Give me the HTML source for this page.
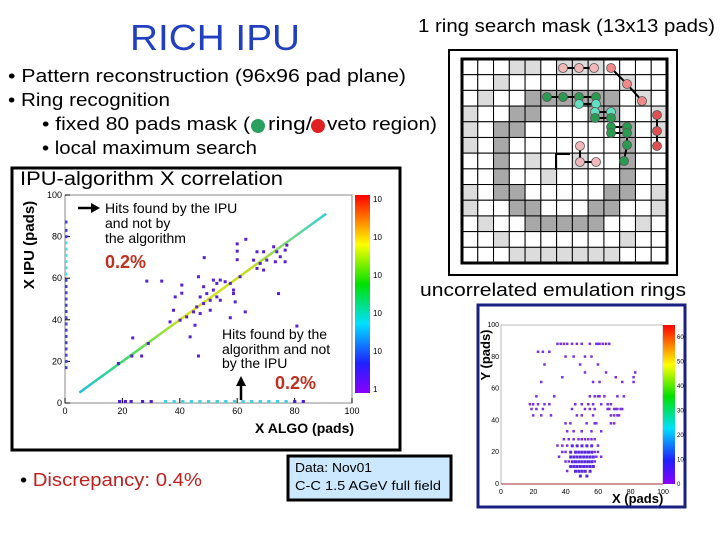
<!DOCTYPE html>
<html><head><meta charset="utf-8"><style>
body{margin:0;background:#fff;width:720px;height:540px;overflow:hidden}
svg{display:block;font-family:"Liberation Sans",sans-serif}
</style></head><body>
<svg id="s" width="720" height="540" viewBox="0 0 720 540">
<defs>
<linearGradient id="cb" x1="0" y1="1" x2="0" y2="0">
<stop offset="0" stop-color="#8a00ff"/><stop offset="0.15" stop-color="#2020ff"/><stop offset="0.35" stop-color="#00e0ff"/><stop offset="0.55" stop-color="#00e000"/><stop offset="0.75" stop-color="#ffff00"/><stop offset="1" stop-color="#ff0000"/>
</linearGradient>
<linearGradient id="dg" x1="0" y1="1" x2="1" y2="0">
<stop offset="0" stop-color="#20c0e0"/><stop offset="0.2" stop-color="#40e060"/><stop offset="0.45" stop-color="#e0e020"/><stop offset="0.7" stop-color="#c0e020"/><stop offset="1" stop-color="#30d0e0"/>
</linearGradient>
</defs>
<text x="130" y="50" font-size="36" fill="#2040c0" textLength="170" lengthAdjust="spacingAndGlyphs">RICH IPU</text>
<text x="418" y="32" font-size="18" fill="#000" textLength="297" lengthAdjust="spacingAndGlyphs">1 ring search mask (13x13 pads)</text>
<g font-size="18" fill="#000">
<text x="8" y="82" textLength="398" lengthAdjust="spacingAndGlyphs">• Pattern reconstruction (96x96 pad plane)</text>
<text x="8" y="106" textLength="162" lengthAdjust="spacingAndGlyphs">• Ring recognition</text>
<text x="42" y="130" textLength="208" lengthAdjust="spacingAndGlyphs">• fixed 80 pads mask (</text>
<text x="268" y="130" textLength="44" lengthAdjust="spacingAndGlyphs">ring/</text>
<text x="327" y="130" textLength="110" lengthAdjust="spacingAndGlyphs">veto region)</text>
<text x="42" y="154" textLength="215" lengthAdjust="spacingAndGlyphs">• local maximum search</text>
</g>
<circle cx="258" cy="126" r="7" fill="#2aa060"/>
<circle cx="318" cy="126" r="7" fill="#e02020"/>
<rect x="449" y="50" width="228" height="225" fill="none" stroke="#000" stroke-width="2"/>
<g id="mask"></g>
<text x="420" y="296" font-size="18" fill="#000" textLength="266" lengthAdjust="spacingAndGlyphs">uncorrelated emulation rings</text>
<rect x="12" y="168" width="388" height="282" fill="none" stroke="#000" stroke-width="3"/>
<text x="20" y="185" font-size="19" fill="#000" textLength="263" lengthAdjust="spacingAndGlyphs">IPU-algorithm X correlation</text>
<g id="main"></g>
<rect x="478" y="305" width="207" height="202" fill="#fff" stroke="#1a2080" stroke-width="3"/>
<g id="right"></g>
<text x="20" y="486" font-size="18" fill="#000" textLength="182" lengthAdjust="spacingAndGlyphs">• <tspan fill="#c02020">Discrepancy: 0.4%</tspan></text>
<rect x="288" y="456" width="163" height="44" fill="#cce8ff" stroke="#000" stroke-width="3"/>
<text x="295" y="472" font-size="13" fill="#000" textLength="77" lengthAdjust="spacingAndGlyphs">Data: Nov01</text>
<text x="295" y="490" font-size="13" fill="#000" textLength="146" lengthAdjust="spacingAndGlyphs">C-C 1.5 AGeV full field</text>
</svg>
<script>
// mask grid shades: 0 white,1 light,2 dark (13x13)
const maskRows=[
"0001101110000","0010000000100","0100222222010","1002200022001","1022000000201","1020000000200","0020100100200","0020010000200","1022000002201","1002200022001","0100222220010","0010000000100","0001111111000"];
const mainTickVals=[0,20,40,60,80,100];
const diagStart=[5,5], diagEnd=[91,91];
const clusterA=[[66.9,72.7],[69.2,72.7],[65.7,68.7],[68,67.1],[70.3,68.7],[72.7,75.1],[73.8,72.7],[75,70.3],[76.7,73.5],[77.3,75.9],[73.3,67.9],[76.7,67.9],[66.9,64.7],[69.2,63.9]];
const clusterB=[[47.1,51],[49.4,52.6],[51.7,54.3],[52.9,51],[54.1,49.4],[48.3,47.8],[50.6,49.4],[45.9,46.2],[44.8,43.8],[42.4,41.4],[40.1,39.8],[47.1,43],[52.9,57.5],[55.8,58.3],[57.6,57.5],[58.7,54.3],[61,60.7],[51.7,59.1],[54.1,59.1],[58.7,52.6],[48.3,55.9]];
const sparse=[[60,76.5],[63,78.7],[60,73],[60,68.9],[48.5,69.9],[28.5,58.6],[33.7,58.6],[40.7,56.7],[46.5,60.7],[40.7,52.8],[38.4,51],[37.8,44.6],[36.6,39],[45.3,37.4],[43.6,31.8],[46.5,22.6],[50.6,44.6],[57.6,41],[59.3,48.6],[62.8,43.8],[74.4,52.6],[80.8,37],[23.3,22.6],[26.7,22.6],[23.6,31.3],[29,28.6],[18.6,19]];
const zeroXhitsY=[17,20,23,26,29,32,35,38,41,44,47,50,53,56,59,62,65,68,71,74,77,80,83,87];
const zeroYhitsX=[19,21,23,27,30,35,38,41,44,47,50,53,56,59,62,65,68,71,74,77,80,83];
const mainCbLabels=["1","10","10","10","10","10"];
const rightTickVals=[0,20,40,60,80,100];
const rightCbVals=[0,10,20,30,40,50,60];
const uncorrY=[88,83,80,75,70,67,64,55,50,47,43,38,33,28,24,20,17,14,11,8,5];
const uncorrX=[[35,37,39,41,44,47,50,55,59,60,61,63,65,67],[23,26,30],[40,45,52,56],[27,49,60],[52,65,83],[38,71,82],[25,57,61,75,82],[22,33,55,58,60,61,64,72,76],[18,20,23,27,30,46,50,54,57,62,66,68],[19,22,26,44,52,55,58,66,67,70,71,72,74,75],[20,25,31,47,50,57,68,70,72,73],[40,43,53,58,59,68,70],[41,45,50,56,62],[39,42,45,48,50,52,54,56,58],[35,38,41,44,47,50,53,56,60],[38,40,43,46,48,50,52,54,56,58,60],[36,43,45,47,49,51,53,55,57,59,62],[40,42,44,46,48,50,52,54,56,58],[43,45,47,49,51,53,55,57],[41,46,48,50,52,55],[49,53]];
const NS="http://www.w3.org/2000/svg";
function mk(p,t,a){const e=document.createElementNS(NS,t);for(const k in a)e.setAttribute(k,a[k]);p.appendChild(e);return e;}
// mask
const mask=document.getElementById('mask');
const gx0=462,gy0=59,cw=205/13,ch=204/13;
maskRows.forEach((r,i)=>{[...r].forEach((c,j)=>{
 const e=mk(mask,'rect',{x:gx0+j*cw,y:gy0+i*ch,width:cw,height:ch,fill:c==='2'?'#a8a8a8':c==='1'?'#dcdcdc':'#fff',stroke:'#000','stroke-width':1});
 
 
});});
const mb=mk(mask,'rect',{x:gx0,y:gy0,width:205,height:204,fill:'none',stroke:'#000','stroke-width':3});


mk(mask,'path',{d:'M556 170V154H570',fill:'none',stroke:'#000','stroke-width':2});
const chains=[
 {c:'#f0b8b8',pts:[[563,68],[579,68],[594,68]]},{c:'#f08a8a',pts:[[611,68],[627,84],[642,101]]},
 {c:'#2a9a50',pts:[[547,97],[563,97],[579,97],[596,97]]},{c:'#60e0c0',pts:[[579,104],[596,104]]},
 {c:'#60e0c0',pts:[[595,112],[611,112]]},{c:'#2a9a50',pts:[[595,118],[611,118]]},
 {c:'#2a9a50',pts:[[611,127],[627,127]]},{c:'#2a9a50',pts:[[611,133],[627,133],[627,145],[624,161]]},
 {c:'#e05050',pts:[[657,115],[657,131],[657,146]]},{c:'#f0b8b8',pts:[[580,146],[580,162],[596,162]]}];
chains.forEach(ch=>{
 mk(mask,'polyline',{points:ch.pts.map(p=>p.join(',')).join(' '),fill:'none',stroke:'#000','stroke-width':2});
 ch.pts.forEach(p=>{const e=mk(mask,'circle',{cx:p[0],cy:p[1],r:4.5,fill:ch.c,stroke:'#555','stroke-width':0.8});
 
 });
});
// main chart
const M=document.getElementById('main');
const X0=65,X1=352,Y0=403,Y1=195;
const mx=v=>X0+(X1-X0)*v/100, my=v=>Y0-(Y0-Y1)*v/100;
mk(M,'rect',{x:X0,y:Y1,width:X1-X0,height:Y0-Y1,fill:'#fff',stroke:'#888','stroke-width':1});
mainTickVals.forEach(v=>{
 const a=mk(M,'text',{x:mx(v),y:Y0+11,'font-size':9,'text-anchor':'middle',fill:'#000'});a.textContent=v;
 
 const b=mk(M,'text',{x:X0-3,y:my(v)+3,'font-size':9,'text-anchor':'end',fill:'#000'});b.textContent=v;
 
 mk(M,'line',{x1:mx(v),y1:Y0,x2:mx(v),y2:Y0-5,stroke:'#000'});mk(M,'line',{x1:X0,y1:my(v),x2:X0+5,y2:my(v),stroke:'#000'});
});
zeroXhitsY.forEach(v=>{const e=mk(M,'rect',{x:X0,y:my(v)-1.5,width:2.5,height:3,fill:v>60&&v<80?'#40e0e0':'#4040e0'});
 });
zeroYhitsX.forEach(v=>{const e=mk(M,'rect',{x:mx(v)-1.5,y:Y0-3,width:3.2,height:3,fill:v>34&&v<79?'#40d0e0':'#5020d0'});
 });
const dl=mk(M,'line',{x1:mx(diagStart[0]),y1:my(diagStart[1]),x2:mx(diagEnd[0]),y2:my(diagEnd[1]),stroke:'url(#dg)','stroke-width':2.5});

[...clusterA,...clusterB,...sparse].forEach(p=>{const e=mk(M,'rect',{x:mx(p[0])-1.5,y:my(p[1])-1.5,width:3,height:3,fill:'#5a20d0'});
 });
mk(M,'rect',{x:355,y:Y1,width:15,height:Y0-Y1-10,fill:'url(#cb)'});
mainCbLabels.forEach((l,i)=>{const t=mk(M,'text',{x:373,y:Y0-14-i*((Y0-Y1-18)/5)+3,'font-size':8,fill:'#000'});t.textContent=l;
 });
const txt=(x,y,s,a)=>{const t=mk(M,'text',Object.assign({x:x,y:y},a));t.textContent=s;return t;};
let t=txt(34,245,'X IPU  (pads)',{'font-size':15,'font-weight':'bold','text-anchor':'middle',transform:'rotate(-90 34 245)'});

t=txt(255,433,'X ALGO (pads)',{'font-size':14,'font-weight':'bold'});

mk(M,'path',{d:'M78 208H92',stroke:'#000','stroke-width':2.5});mk(M,'path',{d:'M91 203L100 208L91 213Z',fill:'#000'});
[['Hits found by the IPU',213],['and not by',228],['the algorithm',243]].forEach(a=>{const e=txt(105,a[1],a[0],{'font-size':14});
 });
t=txt(105,268,'0.2%',{'font-size':18,'font-weight':'bold',fill:'#c03020'});

[['Hits found by the',339],['algorithm and not',354],['by the IPU',368]].forEach(a=>{const e=txt(222,a[1],a[0],{'font-size':14});
 });
mk(M,'path',{d:'M241 400V385',stroke:'#000','stroke-width':2.5});mk(M,'path',{d:'M236 386L241 376L246 386Z',fill:'#000'});
t=txt(275,389,'0.2%',{'font-size':18,'font-weight':'bold',fill:'#c03020'});

// right chart
const R=document.getElementById('right');
const RX0=501,RX1=663,RY0=484,RY1=325;
const rx=v=>RX0+(RX1-RX0)*v/100, ry=v=>RY0-(RY0-RY1)*v/100;
mk(R,'rect',{x:RX0,y:RY1,width:RX1-RX0,height:RY0-RY1,fill:'#fff',stroke:'#aaa','stroke-width':0.8});
mk(R,'line',{x1:RX0,y1:RY0,x2:RX1,y2:RY0,stroke:'#a03030','stroke-width':1});
rightTickVals.forEach(v=>{
 const a=mk(R,'text',{x:rx(v),y:RY0+10,'font-size':7,'text-anchor':'middle'});a.textContent=v;
 
 const b=mk(R,'text',{x:RX0-2,y:ry(v)+2,'font-size':7,'text-anchor':'end'});b.textContent=v;
 
});
uncorrY.forEach((y,i)=>uncorrX[i].forEach(x=>{
 const dense=y<=24&&x>=43&&x<=57;
 const e=mk(R,'rect',{x:rx(x)-1.5,y:ry(y)-1.5,width:dense?3:2.5,height:dense?3:2.5,fill:dense?'#5a28e0':'#7a30e0'});
 
}));
mk(R,'rect',{x:663,y:RY1,width:12,height:RY0-RY1,fill:'url(#cb)'});
rightCbVals.forEach(v=>{const e=mk(R,'text',{x:677,y:RY0-(RY0-RY1)*v/65+2,'font-size':6});e.textContent=v;
 });
t=mk(R,'text',{x:490,y:355,'font-size':13,'font-weight':'bold','text-anchor':'middle',transform:'rotate(-90 490 355)'});t.textContent='Y (pads)';

t=mk(R,'text',{x:612,y:503,'font-size':13,'font-weight':'bold'});t.textContent='X (pads)';

</script>
</body></html>
